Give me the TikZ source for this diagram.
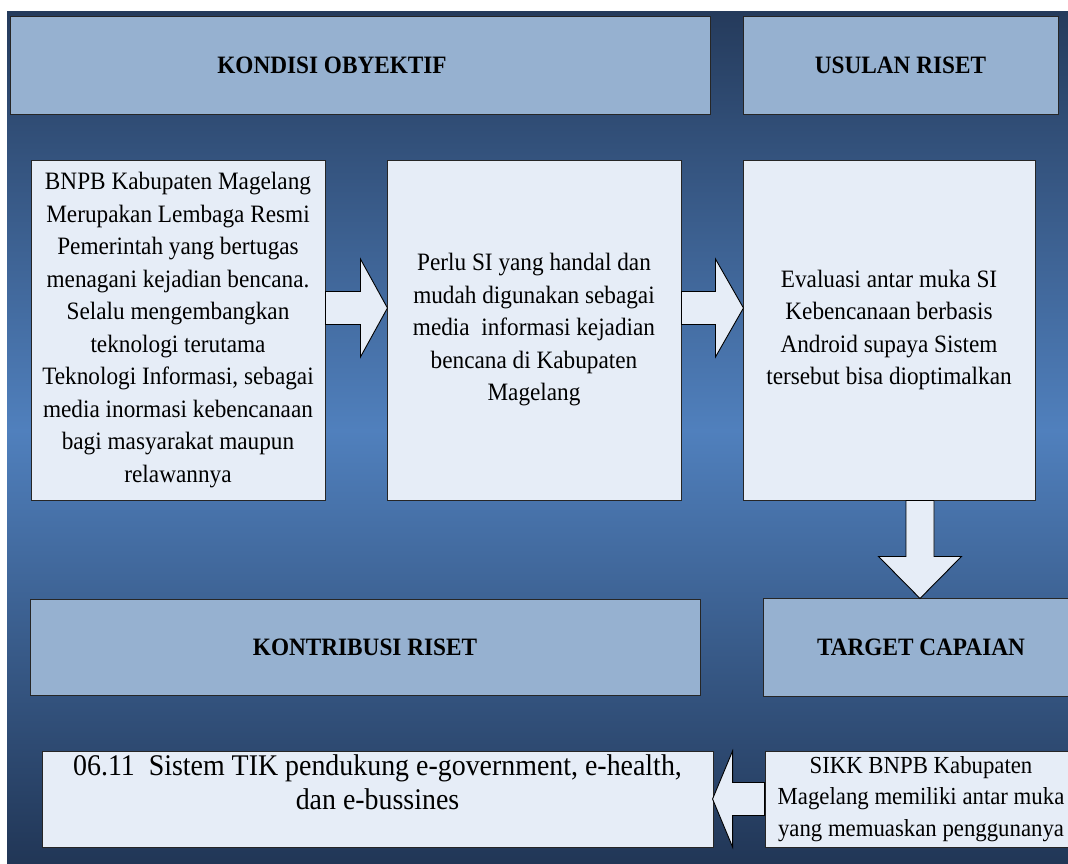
\documentclass[tikz,border=0pt]{standalone}
\usepackage{fontspec}
\setmainfont{Liberation Serif}[FakeStretch=0.93]
\usetikzlibrary{calc}

\definecolor{headblue}{RGB}{150,177,208}
\definecolor{paleblue}{RGB}{230,237,247}
\definecolor{navytop}{RGB}{37,59,92}
\definecolor{midblue}{RGB}{80,128,189}
\definecolor{navybot}{RGB}{33,54,86}

\begin{document}
\begin{tikzpicture}[
  x=1pt,y=-1pt,
  headbox/.style={fill=headblue,draw=black!85,line width=0.9pt,inner sep=0pt,
    font=\fontsize{25}{28}\selectfont\bfseries},
  textbox/.style={fill=paleblue,draw=black!85,line width=0.9pt,inner sep=0pt,
    align=center,font=\fontsize{25}{32.5}\selectfont},
  blockarrow/.style={fill=paleblue,draw=black,line width=0.9pt,line join=miter}]
  \useasboundingbox (0,0) rectangle (1068,864);
  \clip (0,0) rectangle (1068,864);
  % background, dark at top and bottom, lighter in the middle
  \shade[top color=navytop,bottom color=midblue] (7,12) rectangle (1068,431);
  \shade[top color=midblue,bottom color=navybot] (7,430) rectangle (1068,864);

% Header row
  \node[headbox,minimum width=700,minimum height=98] (kondisi) at (360,65)
    {KONDISI OBYEKTIF\hspace*{56pt}};
  \node[headbox,minimum width=315,minimum height=98] (usulan) at (900.5,65)
    {USULAN RISET};

% Content row
  \node[textbox,minimum width=294,minimum height=340] (b1) at (178,330)
    {BNPB Kabupaten Magelang\\Merupakan Lembaga Resmi\\Pemerintah yang bertugas\\
     menagani kejadian bencana.\\Selalu mengembangkan\\teknologi terutama\\
     Teknologi Informasi, sebagai\\media inormasi kebencanaan\\
     bagi masyarakat maupun\\relawannya};
  \node[textbox,minimum width=294,minimum height=340] (b2) at (534,330)
    {Perlu SI yang handal dan\\mudah digunakan sebagai\\media~ informasi kejadian\\
     bencana di Kabupaten\\Magelang};
  \node[textbox,minimum width=292,minimum height=340] (b3) at (889,330)
    {Evaluasi antar muka SI\\Kebencanaan berbasis\\Android supaya Sistem\\
     tersebut bisa dioptimalkan};

% Lower headers
  \node[headbox,minimum width=670,minimum height=96] (kontribusi) at (365,647)
    {KONTRIBUSI RISET};
  \node[headbox,minimum width=316,minimum height=98] (target) at (921,647)
    {TARGET CAPAIAN};

% Bottom row
  \node[textbox,minimum width=671,minimum height=96,
    font=\fontsize{30}{34}\selectfont] (hasil) at (377.5,799)
    {06.11~ Sistem TIK pendukung e-government, e-health,\\dan e-bussines\\~};
  \node[textbox,minimum width=312,minimum height=96,
    font=\fontsize{24.5}{31.5}\selectfont] (sikk) at (921,799)
    {SIKK BNPB Kabupaten\\Magelang memiliki antar muka\\yang memuaskan penggunanya};

% Arrow start points
  \coordinate (a1) at ($(b1.east)+(0,-22)$);
  \coordinate (a2) at ($(b2.east)+(0,-22)$);
  \coordinate (a3) at ($(b3.south)+(31,0)$);
  \coordinate (a4) at (sikk.west);
% Block arrows: start / rotation / length / shaft length / shaft half / head half
  \foreach \start/\rot/\len/\shaft/\sw/\hw in {a1/0/62/35/16.5/49,
    a2/0/62/34/16.5/49,a3/-90/98/56/14/41.5,a4/180/52/32/16.5/48}{
  \begin{scope}[shift={(\start)},rotate=\rot]
    \draw[blockarrow] (0,-\sw) -- (\shaft,-\sw) -- (\shaft,-\hw) -- (\len,0)
      -- (\shaft,\hw) -- (\shaft,\sw) -- (0,\sw) -- cycle;
  \end{scope}}
\end{tikzpicture}
\end{document}
